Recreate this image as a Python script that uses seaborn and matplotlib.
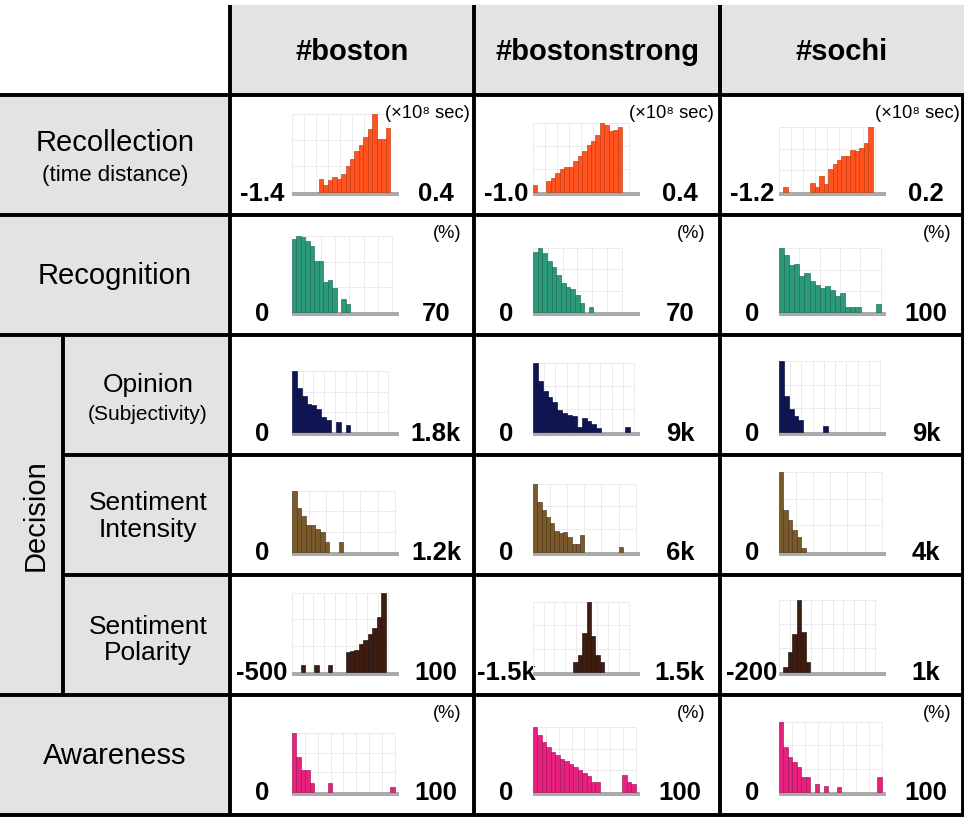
import numpy as np
import pandas as pd
import matplotlib
matplotlib.use("Agg")
import matplotlib.pyplot as plt
import seaborn as sns
from matplotlib.patches import Rectangle

sns.set_theme(style="white")
plt.rcParams['font.family'] = ['Liberation Sans', 'DejaVu Sans']
plt.rcParams['text.color'] = 'black'

# ---------------- data (bar heights, arbitrary units) -------------
columns = ["#boston", "#bostonstrong", "#sochi"]

rec_boston = [0, 0, 0, 0, 0, 0, 38, 22, 36, 46, 38, 54, 78, 98, 122, 142, 164, 188, 235, 160, 160, 192, 0, 0]
rec_bstrong = [20, 0, 0, 32, 42, 56, 70, 74, 74, 92, 108, 124, 140, 154, 172, 208, 202, 182, 186, 194, 0, 0, 0, 0]
rec_sochi = [0, 15, 0, 0, 0, 0, 0, 26, 15, 48, 25, 68, 85, 95, 108, 108, 125, 123, 133, 147, 194, 0, 0, 0]

recog_boston = [219, 227, 226, 212, 197, 152, 154, 90, 96, 72, 0, 39, 24, 0, 0, 0, 0, 0, 0, 0, 0, 0, 0, 0]
recog_bstrong = [180, 192, 177, 152, 134, 112, 88, 75, 70, 50, 27, 0, 16, 0, 0, 0, 0, 0, 0, 0, 0, 0, 0]
recog_sochi = [191, 170, 142, 144, 109, 117, 94, 82, 72, 78, 67, 47, 56, 14, 14, 14, 0, 0, 0, 24, 0]

op_boston = [182, 132, 107, 83, 80, 68, 45, 37, 0, 30, 0, 20, 0, 0, 0, 0, 0, 0, 0, 0, 0, 0]
op_bstrong = [208, 153, 123, 106, 90, 66, 56, 52, 48, 16, 43, 33, 25, 13, 0, 0, 0, 0, 0, 16, 0, 0]
op_sochi = [213, 108, 68, 48, 35, 0, 0, 0, 0, 18, 0, 0, 0, 0, 0, 0, 0, 0, 0, 0, 0, 0]

int_boston = [184, 132, 107, 82, 80, 70, 60, 30, 0, 0, 30, 0, 0, 0, 0, 0, 0, 0, 0, 0, 0, 0, 0]
int_bstrong = [205, 150, 125, 105, 88, 62, 58, 60, 45, 25, 25, 50, 0, 0, 0, 0, 0, 0, 0, 0, 15, 0, 0, 0, 0]
int_sochi = [240, 126, 96, 66, 45, 12, 0, 0, 0, 0, 0, 0, 0, 0, 0, 0, 0, 0, 0, 0, 0, 0, 0, 0]

pol_boston = [0, 0, 21, 0, 0, 21, 0, 0, 21, 0, 0, 0, 60, 63, 66, 84, 96, 114, 132, 165, 237, 0, 0, 0]
pol_bstrong = [0, 0, 0, 0, 0, 0, 0, 0, 0, 30, 51, 117, 210, 108, 51, 30, 0, 0, 0, 0, 0, 0, 0, 0]
pol_sochi = [0, 15, 60, 114, 216, 120, 30, 0, 0, 0, 0, 0, 0, 0, 0, 0, 0, 0, 0, 0, 0, 0, 0, 0]

aw_boston = [177, 105, 66, 66, 27, 0, 0, 0, 27, 0, 0, 0, 0, 0, 0, 0, 0, 0, 0, 0, 0, 0, 15, 0]
aw_bstrong = [195, 170, 150, 135, 120, 110, 100, 92, 84, 76, 66, 58, 48, 30, 30, 0, 0, 0, 0, 0, 50, 30, 24, 0]
aw_sochi = [210, 135, 105, 90, 75, 45, 45, 0, 24, 0, 18, 0, 0, 15, 0, 0, 0, 0, 0, 0, 0, 0, 45, 0]

left_labels = [["-1.4", "-1.0", "-1.2"],
               ["0", "0", "0"],
               ["0", "0", "0"],
               ["0", "0", "0"],
               ["-500", "-1.5k", "-200"],
               ["0", "0", "0"]]
right_labels = [["0.4", "0.4", "0.2"],
                ["70", "70", "100"],
                ["1.8k", "9k", "9k"],
                ["1.2k", "6k", "4k"],
                ["100", "1.5k", "1k"],
                ["100", "100", "100"]]
unit_labels = ["(×10⁸ sec)", "(%)", None, None, None, "(%)"]

row_data = [[rec_boston, rec_bstrong, rec_sochi],
            [recog_boston, recog_bstrong, recog_sochi],
            [op_boston, op_bstrong, op_sochi],
            [int_boston, int_bstrong, int_sochi],
            [pol_boston, pol_bstrong, pol_sochi],
            [aw_boston, aw_bstrong, aw_sochi]]

# ---------------- style ----------------
row_colors = ["#FF521E", "#2A9A7B", "#0E1552", "#7A5A2B", "#3C1D0F", "#E8217F"]
row_edges = ["#C23A10", "#1C6B55", "#05093A", "#4D3718", "#22100A", "#A3145A"]
grid_steps = [[0.112, 0.112, 0.112],
              [0.134, 0.138, 0.19],
              [0.10, 0.105, 0.105],
              [0.16, 0.16, 0.16],
              [0.10, 0.10, 0.10],
              [0.12, 0.12, 0.12]]

W, H = 964, 817
fig = plt.figure(figsize=(W / 100, H / 100), dpi=100)
bg = fig.add_axes([0, 0, 1, 1])
bg.set_xlim(0, W)
bg.set_ylim(H, 0)
bg.axis("off")

cell_gray = "#e3e3e3"
col_x = [230, 474, 720, 964]
row_y = [95, 215, 335, 455, 575, 695, 815]
header_top = 5

# gray header cells
bg.add_patch(Rectangle((230, header_top), W - 230, 95 - header_top, color=cell_gray, zorder=0))
bg.add_patch(Rectangle((0, 95), 230, 815 - 95, color=cell_gray, zorder=0))

lw = 2.8
# horizontal lines
for y in [95, 215, 335, 695, 815]:
    bg.plot([0, W], [y, y], color="black", lw=lw, solid_capstyle="butt", zorder=5)
for y in [455, 575]:
    bg.plot([63, W], [y, y], color="black", lw=lw, solid_capstyle="butt", zorder=5)
# vertical lines
for x in [230, 474, 720]:
    bg.plot([x, x], [header_top, 815], color="black", lw=lw, solid_capstyle="butt", zorder=5)
bg.plot([63, 63], [335, 695], color="black", lw=lw, solid_capstyle="butt", zorder=5)
bg.plot([962.5, 962.5], [95, 815], color="black", lw=lw, solid_capstyle="butt", zorder=5)

# header texts
for c, name in enumerate(columns):
    cx = (col_x[c] + col_x[c + 1]) / 2
    bg.text(cx, 52, name, ha="center", va="center", fontsize=21, fontweight="bold", zorder=6)

# row header texts
tkw = dict(ha="center", va="center", zorder=6)
bg.text(115, 143, "Recollection", fontsize=21, **tkw)
bg.text(115, 175, "(time distance)", fontsize=16, **tkw)
bg.text(115, 276, "Recognition", fontsize=21, **tkw)
bg.text(36, 515, "Decision", fontsize=21, rotation=90, **tkw)
bg.text(148, 385, "Opinion", fontsize=19, **tkw)
bg.text(148, 414, "(Subjectivity)", fontsize=15, **tkw)
bg.text(148, 503, "Sentiment", fontsize=19, **tkw)
bg.text(148, 530, "Intensity", fontsize=19, **tkw)
bg.text(148, 627, "Sentiment", fontsize=19, **tkw)
bg.text(148, 653, "Polarity", fontsize=19, **tkw)
bg.text(115, 756, "Awareness", fontsize=21, **tkw)

plot_left_off = [62, 59, 59]
plot_w = 107
YTOP = 243.0
YBOT = -13.0

for r in range(6):
    y0 = row_y[r]
    baseline = y0 + 97
    for c in range(3):
        x0 = col_x[c]
        vals = row_data[r][c]
        n = len(vals)
        left = x0 + plot_left_off[c]
        ax = fig.add_axes([left / W, 1 - (baseline + 4.3) / H, plot_w / W, (81 + 4.3) / H])
        df = pd.DataFrame({"bin": list(range(n)), "h": vals})
        # faint grid, up to the tallest bar
        ymax = max(vals)
        step = grid_steps[r][c] * n
        gx = []
        k = 0
        while k * step <= 0.965 * n:
            gx.append(-0.5 + k * step)
            k += 1
        ax.vlines(gx, 0, ymax, color="#ebebeb", lw=0.7, zorder=1)
        ax.hlines([ymax / 3, 2 * ymax / 3, ymax], -0.5, gx[-1], color="#ebebeb", lw=0.7, zorder=1)
        sns.barplot(data=df, x="bin", y="h", color=row_colors[r], edgecolor=row_edges[r],
                    linewidth=0.45, width=1.0, saturation=1, ax=ax, zorder=3)
        for p in list(ax.patches):
            if p.get_height() == 0:
                p.set_visible(False)
        ax.axhspan(YBOT, 0, color="#aaaaaa", lw=0, zorder=2)
        ax.set_xlim(-0.5, n - 0.5)
        ax.set_ylim(YBOT, YTOP)
        ax.set_axis_off()

        bg.text(x0 + 32, y0 + 98.5, left_labels[r][c], ha="center", va="center",
                fontsize=18.5, fontweight="bold", zorder=6)
        bg.text(x0 + 206, y0 + 98.5, right_labels[r][c], ha="center", va="center",
                fontsize=18.5, fontweight="bold", zorder=6)
        if unit_labels[r] is not None:
            rx = x0 + (240 if r == 0 else 231)
            fig.text(rx / W, 1 - (y0 + 19) / H, unit_labels[r], ha="right", va="center",
                     fontsize=13.2, zorder=10)

fig.savefig("out.png", dpi=100)
